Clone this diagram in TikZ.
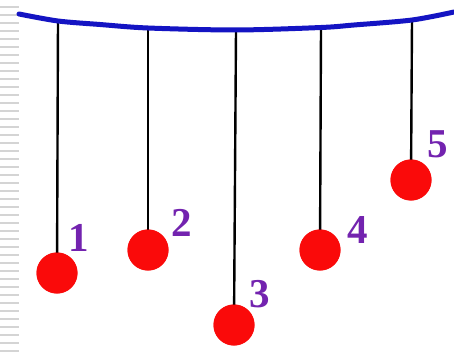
\documentclass[tikz,border=0pt]{standalone}
\usepackage{fontspec}
\setmainfont{Liberation Serif}
\definecolor{arcblue}{RGB}{20,20,195}
\definecolor{ballred}{RGB}{250,10,10}
\definecolor{labpurple}{RGB}{115,35,175}
\definecolor{stripegray}{RGB}{212,212,212}
\tikzset{
  ball/.style={circle,fill=ballred,draw=none,minimum size=41pt,inner sep=0pt},
  lab/.style={text=labpurple,font=\fontsize{41}{41}\selectfont\bfseries,inner sep=0pt},
  stringline/.style={draw=black,line width=2.4pt},
  stripe/.style={draw=stripegray,line width=1.8pt},
  bar/.style={draw=arcblue,line width=5pt,line cap=round}
}
\begin{document}
\begin{tikzpicture}[x=1pt,y=-1pt]
\useasboundingbox (0,0) rectangle (454,358);
\fill[white] (0,0) rectangle (454,358);
% left stripes
\foreach \k in {0,...,43} {
  \draw[stripe] (0,{7+8*\k}) -- (19,{7+8*\k});
}
% string tops
\coordinate (t1) at (58,21);
\coordinate (t2) at (148,28);
\coordinate (t3) at (236,30);
\coordinate (t4) at (321,28);
\coordinate (t5) at (412,20);
% balls
\node[ball] (b1) at (57,273) {};
\node[ball] (b2) at (148,250) {};
\node[ball] (b3) at (234,325) {};
\node[ball] (b4) at (320,250) {};
\node[ball] (b5) at (411,180) {};
% strings
\foreach \i in {1,...,5} {
  \draw[stringline] (t\i) -- (b\i.center);
}
\foreach \i in {1,...,5} {
  \node[ball] at (b\i) {};
}
% bar
\draw[bar] plot[smooth,tension=0.5] coordinates {(19,14) (58,21) (100,24.5) (148,28) (236,30) (321,27.5) (354,25) (412,20) (454,12)};
% labels
\node[lab] (l1) at (79,238) {1};
\node[lab] (l2) at (182,223) {2};
\node[lab] (l3) at (260,294) {3};
\node[lab] (l4) at (358,230) {4};
\node[lab] (l5) at (438,144) {5};
\end{tikzpicture}
\end{document}
